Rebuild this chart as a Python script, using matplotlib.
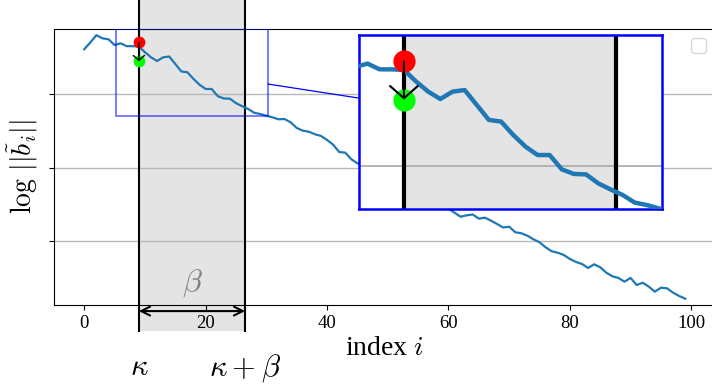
import numpy as np
import matplotlib.pyplot as plt
from matplotlib.patches import Rectangle, ConnectionPatch

plt.rcParams['font.family'] = ['Liberation Serif', 'DejaVu Serif']
plt.rcParams['mathtext.fontset'] = 'cm'
plt.rcParams['font.size'] = 13.5

# log norms of the Gram-Schmidt vectors
log_norms = [4.614, 4.706, 4.806, 4.763, 4.750, 4.672, 4.695, 4.656, 4.656, 4.652,
             4.573, 4.504, 4.454, 4.504, 4.515, 4.413, 4.311, 4.300, 4.209, 4.130,
             4.072, 4.072, 3.974, 3.943, 3.940, 3.879, 3.838, 3.800, 3.748, 3.731,
             3.708, 3.686, 3.659, 3.663, 3.618, 3.541, 3.504, 3.490, 3.455, 3.432,
             3.377, 3.313, 3.213, 3.204, 3.114, 3.059, 3.036, 2.995, 3.009, 2.954,
             2.900, 2.873, 2.832, 2.791, 2.763, 2.695, 2.654, 2.613, 2.573, 2.504,
             2.440, 2.386, 2.331, 2.350, 2.361, 2.304, 2.318, 2.277, 2.232, 2.184,
             2.195, 2.119, 2.105, 2.072, 2.023, 1.982, 1.914, 1.860, 1.840, 1.809,
             1.755, 1.714, 1.686, 1.632, 1.682, 1.641, 1.568, 1.519, 1.496, 1.445,
             1.496, 1.400, 1.431, 1.377, 1.309, 1.363, 1.355, 1.295, 1.250, 1.213]
idx = np.arange(len(log_norms))

kappa = 9
beta = 17.5
b_before = 4.71   # red dot
b_after = 4.45    # green dot
zoom_x = (5.3, 30.25)
zoom_y = (3.704, 4.89)

fig = plt.figure(figsize=(7.12, 3.84), dpi=100)
ax = fig.add_axes([0.0761, 0.2057, 0.9285, 0.71875])

ax.plot(idx, log_norms, color='C0', lw=1.6, zorder=3)
ax.set_xlim(-4.95, 103.95)
ax.set_ylim(1.127, 4.89)
ax.set_yticks([2, 3, 4])
ax.set_yticklabels([])
ax.set_xticks(range(0, 101, 20))
ax.grid(axis='y', color='#b8b8b8', lw=1.0)

# block [kappa, kappa+beta]
ax.axvspan(kappa, kappa + beta, ymin=-0.094, ymax=1.11, color='lightgray',
           alpha=0.6, lw=0, clip_on=False, zorder=1)
for xv in (kappa, kappa + beta):
    ax.axvline(xv, ymin=-0.094, ymax=1.11, color='black', lw=1.5,
               clip_on=False, zorder=2)

ax.plot([kappa], [b_before], 'o', color='red', ms=7.5, zorder=4)
ax.plot([kappa], [b_after], 'o', color='lime', ms=7.5, zorder=4)
ax.annotate('', xy=(kappa, b_after), xytext=(kappa, b_before),
            arrowprops=dict(arrowstyle='->, head_width=0.4, head_length=0.35',
                            color='black', lw=1.0,
                            shrinkA=0, shrinkB=0, mutation_scale=10), zorder=5)

trans = ax.get_xaxis_transform()
ax.annotate('', xy=(kappa, -0.022), xytext=(kappa + beta, -0.022), xycoords=trans,
            textcoords=trans,
            arrowprops=dict(arrowstyle='<->', color='black', lw=1.5,
                            shrinkA=0, shrinkB=0, mutation_scale=16),
            annotation_clip=False)
ax.text(kappa + beta / 2, 0.08, r'$\beta$', transform=trans, ha='center',
        va='center', fontsize=23, color='#808080')
ax.text(kappa, -0.255, r'$\kappa$', transform=trans, ha='center', va='baseline',
        fontsize=22, clip_on=False)
ax.text(kappa + beta, -0.255, r'$\kappa+\beta$', transform=trans, ha='center',
        va='baseline', fontsize=22, clip_on=False)

ax.set_xlabel(r'index $i$', fontsize=20, labelpad=3)
ax.set_ylabel(r'$\log\,||\tilde{b}_i||$', fontsize=20, labelpad=3)
ax.legend(handles=[], loc='upper right')

# zoom rectangle and inset
ax.add_patch(Rectangle((zoom_x[0], zoom_y[0]), zoom_x[1] - zoom_x[0],
                       zoom_y[1] - zoom_y[0], fill=False, edgecolor='blue',
                       alpha=0.6, lw=1.2, zorder=4))

axins = fig.add_axes([0.5042, 0.4557, 0.4256, 0.4531])
axins.plot(idx, log_norms, color='C0', lw=3.2, zorder=3)
axins.axvspan(kappa, kappa + beta, color='lightgray', alpha=0.6, lw=0, zorder=1)
for xv in (kappa, kappa + beta):
    axins.axvline(xv, color='black', lw=3, zorder=2)
axins.axhline(4, color='#a8a8a8', lw=1.2, zorder=1.5)
axins.plot([kappa], [b_before], 'o', color='red', ms=15, zorder=4)
axins.plot([kappa], [b_after], 'o', color='lime', ms=15, zorder=4)
axins.annotate('', xy=(kappa, b_after), xytext=(kappa, b_before),
               arrowprops=dict(arrowstyle='->, head_width=0.4, head_length=0.35',
                               color='black', lw=1.5,
                               shrinkA=0, shrinkB=0, mutation_scale=25), zorder=5)
axins.set_xlim(*zoom_x)
axins.set_ylim(*zoom_y)
axins.set_xticks([])
axins.set_yticks([])
for sp in axins.spines.values():
    sp.set_color('blue')
    sp.set_linewidth(1.8)

con = ConnectionPatch(xyA=(zoom_x[1], 4.14), coordsA=ax.transData,
                      xyB=(zoom_x[0], 4.46), coordsB=axins.transData,
                      color='blue', lw=0.9)
fig.add_artist(con)

fig.savefig('out.png', dpi=100)
